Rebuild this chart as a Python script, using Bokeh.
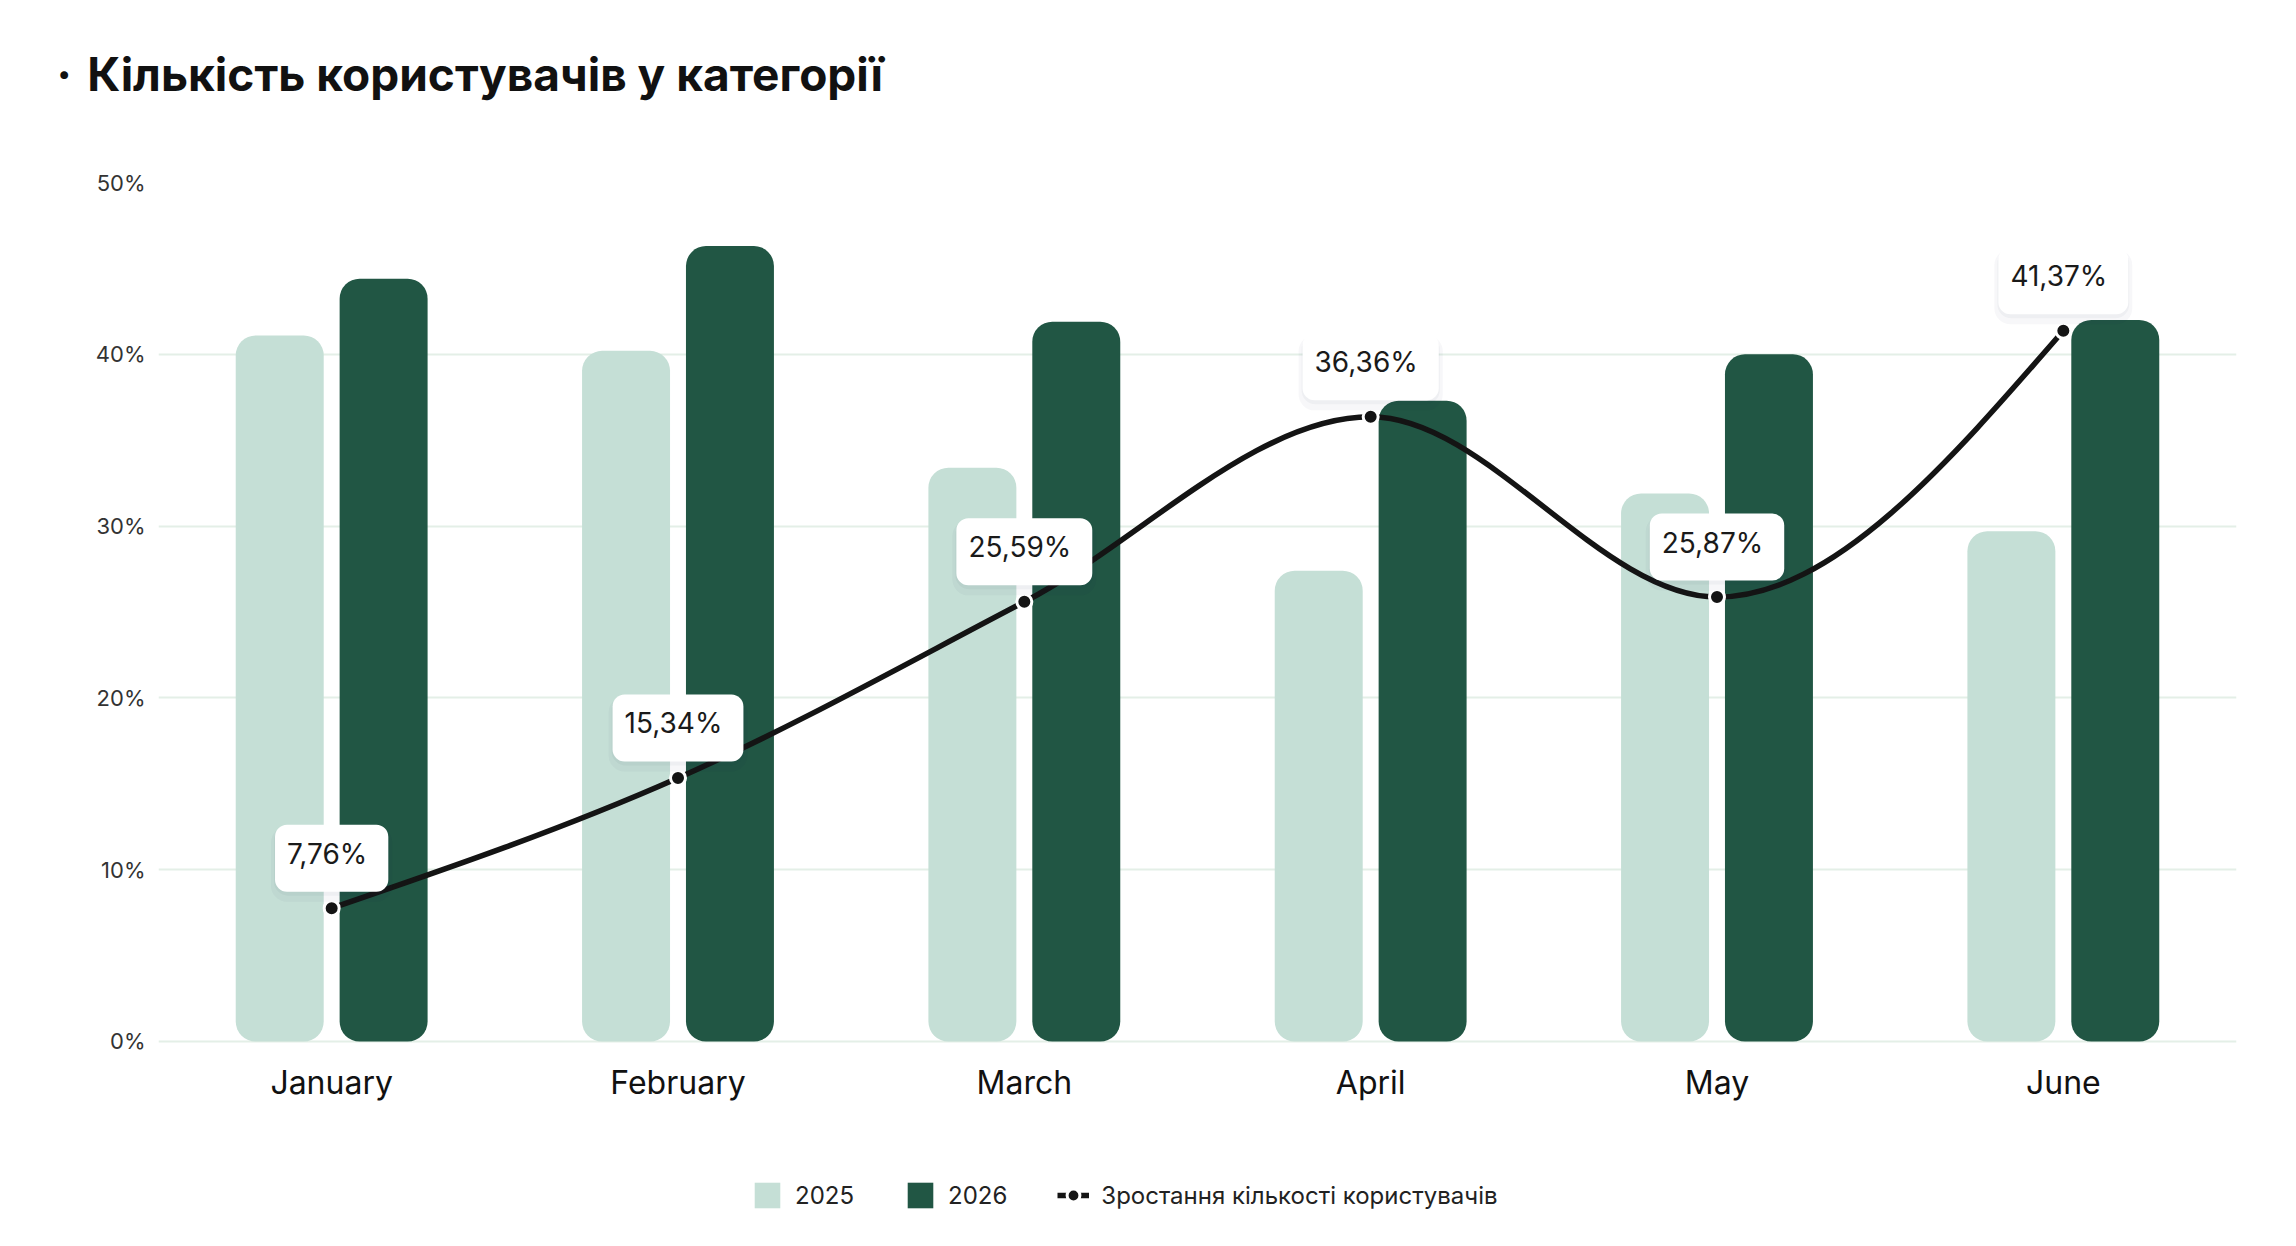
from bokeh.plotting import figure
from bokeh.models import (ColumnDataSource, FactorRange, Range1d, FixedTicker,
                          PrintfTickFormatter, Legend, LegendItem, Title)
from bokeh.transform import dodge
from bokeh.core.properties import value
from bokeh.embed import file_html
from bokeh.resources import INLINE

# ---------------- data ----------------
months = ["January", "February", "March", "April", "May", "June"]
users_2025 = [41.1, 40.2, 33.4, 27.4, 31.9, 29.7]
users_2026 = [44.4, 46.3, 41.9, 37.3, 40.0, 42.0]
growth = [7.76, 15.34, 25.59, 36.36, 25.87, 41.37]
growth_labels = ["7,76%", "15,34%", "25,59%", "36,36%", "25,87%", "41,37%"]
y_ticks = [0, 10, 20, 30, 40, 50]
series_names = ["2025", "2026", "Зростання кількості користувачів"]
title_text = "Кількість користувачів у категорії"

FONT = "Inter"
LIGHT = "#c5dfd6"
DARK = "#215644"
INK = "#141414"

src = ColumnDataSource(dict(month=months, y25=users_2025, y26=users_2026,
                            g=growth, lab=growth_labels))

# the frame reaches down to the legend row; 0% sits where the reference has it
p = figure(width=2280, height=1230, x_range=FactorRange(*months, range_padding=0),
           y_range=Range1d(-10.42, 50), output_backend="svg", toolbar_location=None,
           x_axis_location=None,
           min_border_left=158, min_border_right=44, min_border_top=182,
           min_border_bottom=10, background_fill_color="white",
           border_fill_color="white", outline_line_color=None)

# blank spacer between the frame and the title, then the title itself
p.add_layout(Title(text=" ", text_font=FONT, text_font_size="1px",
                   standoff=73), "above")
p.add_layout(Title(text="\u00b7\u2004" + title_text, text_font=FONT,
                   text_font_size="46px", text_font_style="bold",
                   text_color="#111111", align="left", vertical_align="bottom",
                   offset=-102, standoff=10), "above")

# bars
b25 = p.vbar(x=dodge("month", -0.15, range=p.x_range), top="y25", width=0.254,
             source=src, fill_color=LIGHT, line_color=None, border_radius=20)
b26 = p.vbar(x=dodge("month", 0.15, range=p.x_range), top="y26", width=0.254,
             source=src, fill_color=DARK, line_color=None, border_radius=20)

# smooth (monotone cubic) line through growth values, drawn with bezier glyphs
def monotone_segments(vals):
    n = len(vals)
    xs = [i + 0.5 for i in range(n)]
    s = [(vals[i + 1] - vals[i]) for i in range(n - 1)]
    t = [0.0] * n
    sign = lambda v: (v > 0) - (v < 0)
    for i in range(1, n - 1):
        s0, s1 = s[i - 1], s[i]
        pp = (s0 + s1) / 2
        t[i] = (sign(s0) + sign(s1)) * min(abs(s0), abs(s1), 0.5 * abs(pp))
    t[0] = (3 * s[0] - t[1]) / 2
    t[-1] = (3 * s[-1] - t[-2]) / 2
    d = dict(x0=[], y0=[], x1=[], y1=[], cx0=[], cy0=[], cx1=[], cy1=[])
    for i in range(n - 1):
        d["x0"].append(xs[i]); d["y0"].append(vals[i])
        d["x1"].append(xs[i + 1]); d["y1"].append(vals[i + 1])
        d["cx0"].append(xs[i] + 1 / 3); d["cy0"].append(vals[i] + t[i] / 3)
        d["cx1"].append(xs[i + 1] - 1 / 3); d["cy1"].append(vals[i + 1] - t[i + 1] / 3)
    return d

curve = p.bezier(source=ColumnDataSource(monotone_segments(growth)), x0="x0", y0="y0",
                 x1="x1", y1="y1", cx0="cx0", cy0="cy0", cx1="cx1", cy1="cy1",
                 line_color=INK, line_width=5.5)

dots = p.scatter(x="month", y="g", source=src, size=15, fill_color=INK,
                 line_color="white", line_width=3)

# label boxes (soft shadow + white box)
p.text(x="month", y="g", text="lab", source=src, y_offset=-44,
       text_align="center", text_baseline="middle", text_font=value(FONT),
       text_font_size="28px", text_alpha=0, background_fill_color="#1b2a4a",
       background_fill_alpha=0.035, padding=(16, 25, 16, 25), border_radius=16)
p.text(x="month", y="g", text="lab", source=src, y_offset=-47,
       text_align="center", text_baseline="middle", text_font=value(FONT),
       text_font_size="28px", text_alpha=0, background_fill_color="#1b2a4a",
       background_fill_alpha=0.04, padding=(13, 22, 13, 22), border_radius=14)
p.text(x="month", y="g", text="lab", source=src, y_offset=-50,
       text_align="center", text_baseline="middle", text_font=value(FONT),
       text_font_size="28px", text_color="#1a1a1a", background_fill_color="white",
       padding=(12, 21, 12, 21), border_radius=12)

# month labels under the 0% line
p.text(x="month", y=0, text="month", source=src, y_offset=41,
       text_align="center", text_baseline="middle", text_font=value(FONT),
       text_font_size="32px", text_color="#111111")

# y axis
ya = p.yaxis[0]
ya.ticker = FixedTicker(ticks=y_ticks)
ya.formatter = PrintfTickFormatter(format="%d%%")
ya.axis_line_color = None
ya.major_tick_line_color = None
ya.minor_tick_line_color = None
ya.major_tick_out = 0
ya.major_tick_in = 0
ya.major_label_text_font = FONT
ya.major_label_text_font_size = "22px"
ya.major_label_text_color = "#333333"
ya.major_label_standoff = 13

p.xgrid.grid_line_color = None
p.ygrid.grid_line_color = "#e4efe7"
p.ygrid.grid_line_width = 2

# legend
legend = Legend(items=[LegendItem(label=series_names[0], renderers=[b25]),
                       LegendItem(label=series_names[1], renderers=[b26]),
                       LegendItem(label=series_names[2], renderers=[curve, dots])],
                orientation="horizontal", location=(593, 9),
                glyph_width=32, glyph_height=32, label_standoff=12, spacing=50,
                padding=0, margin=0, border_line_color=None,
                background_fill_alpha=0, label_text_font=FONT,
                label_text_font_size="24px", label_text_color="#222222")
p.add_layout(legend, "center")

open("out.html", "w").write(file_html(p, INLINE))
